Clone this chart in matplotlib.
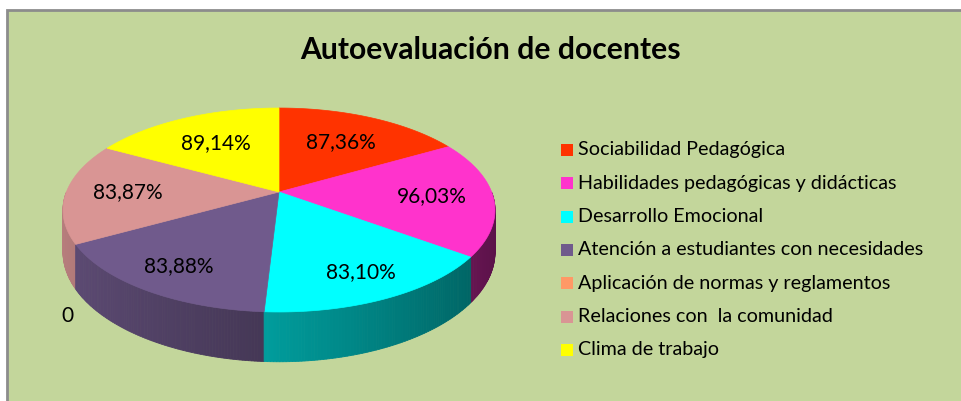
import numpy as np
import matplotlib.pyplot as plt
from matplotlib.patches import Polygon, Rectangle
from matplotlib.colors import to_rgb

plt.rcParams['font.family'] = ['Lato', 'DejaVu Sans']

titulo = "Autoevaluación de docentes"
categorias = ["Sociabilidad Pedagógica",
              "Habilidades pedagógicas y didácticas",
              "Desarrollo Emocional",
              "Atención a estudiantes con necesidades",
              "Aplicación de normas y reglamentos",
              "Relaciones con  la comunidad",
              "Clima de trabajo"]
valores = [87.36, 96.03, 83.10, 83.88, 0.0, 83.87, 89.14]
colores = ["#FF3300", "#FF33CC", "#00FFFF", "#705A8C", "#FF9966", "#D99594", "#FFFF00"]

# geometry of the 3d pie, in pixels (simple perspective)
CX, CY = 279, 192
R, H, T, P = 212.6, 98.8, 41, 0.1765


def proj(theta, r=1.0, z=0.0):
    # theta in degrees, clockwise from 12 o'clock
    t = np.radians(theta)
    u, v = r * np.sin(t), r * np.cos(t)
    w = 1 + P * v
    return CX + R * u / w, CY - H * v / w + z * T / w


def etiqueta(v):
    if v == 0:
        return "0"
    return ("%.2f" % v).replace(".", ",") + "%"


fig = plt.figure(figsize=(9.61, 4.01), dpi=100)
fig.patch.set_facecolor("white")
ax = fig.add_axes([0, 0, 1, 1])
ax.set_xlim(0, 961)
ax.set_ylim(401, 0)
ax.axis("off")

ax.add_patch(Rectangle((7, 10), 970, 420, facecolor="#C3D69B",
                       edgecolor="#8C8C8C", lw=2, zorder=0))

total = sum(valores)
angulos = np.concatenate([[0], np.cumsum(valores) / total * 360])

# sides (only front half is visible)
quads = []
for i, v in enumerate(valores):
    a0, a1 = max(angulos[i], 90), min(angulos[i + 1], 270)
    if v == 0 or a1 <= a0:
        continue
    ts = np.linspace(a0, a1, int((a1 - a0) / 0.7) + 2)
    base = np.array(to_rgb(colores[i]))
    for t0, t1 in zip(ts[:-1], ts[1:]):
        tm = (t0 + t1) / 2
        f = 0.6 - 0.25 * np.sin(np.radians(tm))
        pts = [proj(t0), proj(t1), proj(t1, z=1), proj(t0, z=1)]
        quads.append((np.cos(np.radians(tm)), pts, base * f))
for _, pts, c in sorted(quads, key=lambda q: -q[0]):
    ax.add_patch(Polygon(pts, closed=True, facecolor=c, edgecolor=c, lw=0.6, zorder=2))

# top face
for i, v in enumerate(valores):
    if v == 0:
        continue
    ts = np.linspace(angulos[i], angulos[i + 1], 120)
    pts = [(CX, CY)] + [proj(t) for t in ts]
    ax.add_patch(Polygon(pts, closed=True, facecolor=colores[i],
                         edgecolor=colores[i], lw=0.5, zorder=3))

# data labels
for i, v in enumerate(valores):
    mid = (angulos[i] + angulos[i + 1]) / 2
    if v == 0:
        x, y = proj(mid, z=1)
        ax.text(x - 8, y + 27, etiqueta(v), fontsize=15, ha="center", va="center", zorder=5)
        continue
    ex, ey = proj(mid)
    fr = 0.71 - 0.05 * np.cos(np.radians(mid))
    ax.text(CX + fr * (ex - CX), CY + fr * (ey - CY), etiqueta(v),
            fontsize=15, ha="center", va="center", zorder=5)

ax.text(490, 50, titulo, fontsize=21.7, fontweight="bold", ha="center", va="center")

# legend
for i, nombre in enumerate(categorias):
    y = 150 + i * 33.3
    ax.add_patch(Rectangle((561, y - 6), 12, 12, facecolor=colores[i], edgecolor="none", zorder=4))
    ax.text(578, y, nombre, fontsize=14.2, ha="left", va="center", zorder=5)

fig.savefig("out.png", dpi=100)
